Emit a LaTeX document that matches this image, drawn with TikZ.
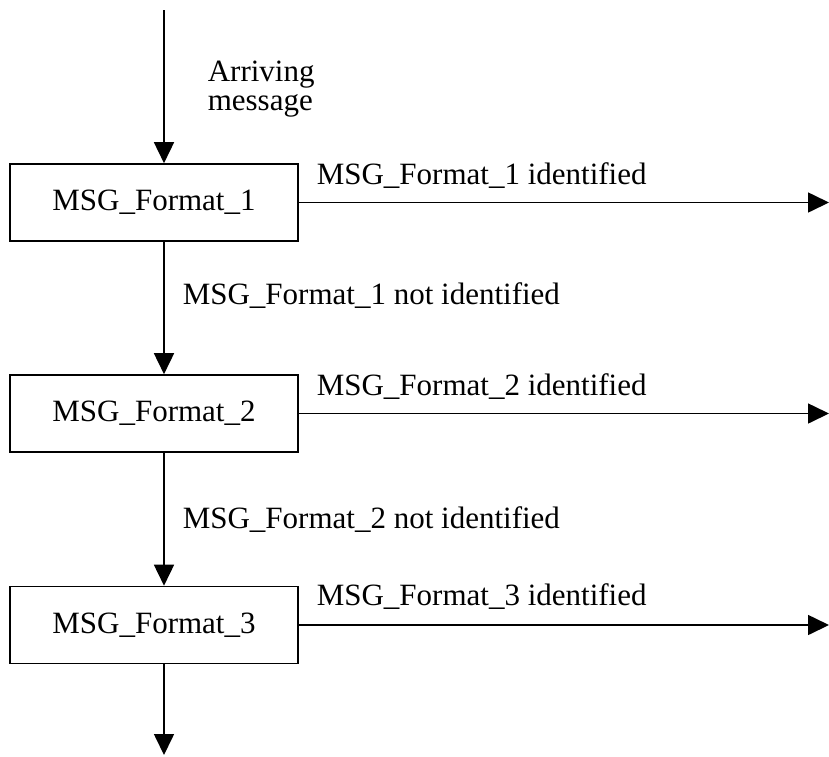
\documentclass[tikz,border=0pt]{standalone}
\usepackage{fontspec}
\setmainfont{Liberation Serif}
\usetikzlibrary{positioning,arrows.meta}

\begin{document}
\begin{tikzpicture}[x=0.5pt,y=-0.5pt,line width=0.8pt,
every node/.style={font=\fontsize{15.5}{14.5}\selectfont, inner sep=0pt},
fmtbox/.style={draw, minimum width=144pt, minimum height=38.5pt},
flow/.style={-{Triangle[length=10.5pt,width=10pt]}},
lbl/.style={anchor=base west}]
\useasboundingbox (0,0) rectangle (829,756);
% format checks
\node[fmtbox] (fmt1) at (154,202.5) {MSG\_Format\_1};
\node[fmtbox] (fmt2) at (154,413.5) {MSG\_Format\_2};
\node[fmtbox] (fmt3) at (154,625) {MSG\_Format\_3};
\coordinate (in) at (164,10);
\coordinate (out) at (164,755);
\coordinate (edge) at (829,0);
% main path down
\draw[flow] (in) -- (in |- fmt1.north);
\draw[flow] (fmt1.south -| in) -- (fmt2.north -| in);
\draw[flow] (fmt2.south -| in) -- (fmt3.north -| in);
\draw[flow] (fmt3.south -| out) -- (out);
% identified branches
\draw[flow] (fmt1.east) -- (fmt1.east -| edge);
\draw[flow] (fmt2.east) -- (fmt2.east -| edge);
\draw[flow] (fmt3.east) -- (fmt3.east -| edge);
% labels
\node[anchor=north west, align=left] (arr) at (207,60) {Arriving\\message};
\node[lbl] (id1) at (316,184) {MSG\_Format\_1 identified};
\node[lbl] (id2) at (316,395) {MSG\_Format\_2 identified};
\node[lbl] (id3) at (316,605) {MSG\_Format\_3 identified};
\node[lbl] (nid1) at (182,304) {MSG\_Format\_1 not identified};
\node[lbl] (nid2) at (182,528) {MSG\_Format\_2 not identified};
\end{tikzpicture}
\end{document}
